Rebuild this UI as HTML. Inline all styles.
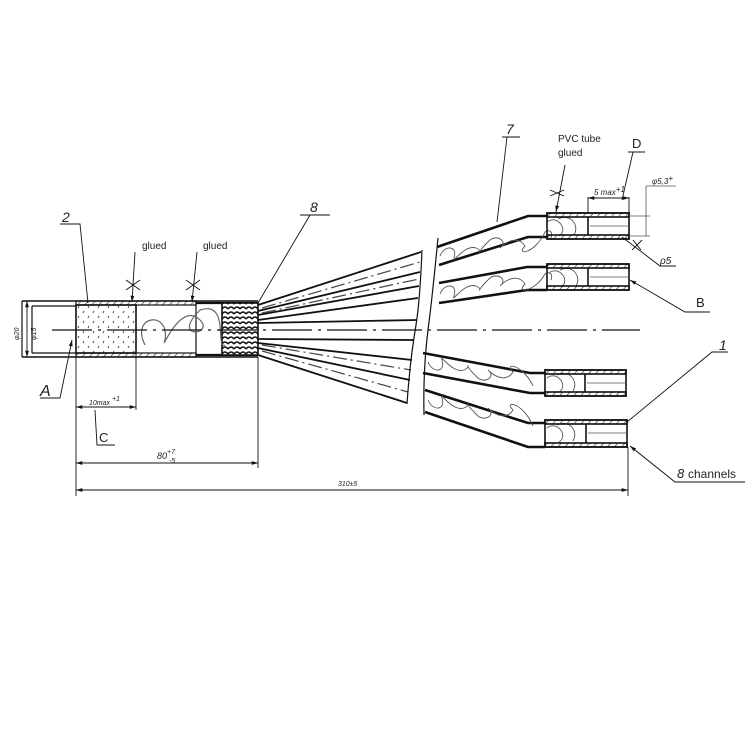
<!DOCTYPE html>
<html><head><meta charset="utf-8"><style>
html,body{margin:0;padding:0;background:#fff;}
svg{display:block;font-family:"Liberation Sans",sans-serif;}
.t{font-family:"Liberation Sans",sans-serif;font-style:italic;fill:#222;}
</style></head><body>
<svg width="750" height="750" viewBox="0 0 750 750" xmlns="http://www.w3.org/2000/svg">
<defs>
<pattern id="hat" width="5" height="5" patternUnits="userSpaceOnUse" patternTransform="rotate(45)">
<line x1="0" y1="0" x2="0" y2="5" stroke="#333" stroke-width="1.3"/></pattern>
<pattern id="mesh" width="6" height="5" patternUnits="userSpaceOnUse">
<rect width="6" height="5" fill="#fff"/><path d="M0 4 Q3 0 6 4" stroke="#111" fill="none" stroke-width="1.6"/></pattern>
<pattern id="foam" width="10" height="10" patternUnits="userSpaceOnUse">
<line x1="3" y1="3" x2="4" y2="1" stroke="#444" stroke-width="0.9"/><line x1="8" y1="8" x2="9" y2="6" stroke="#444" stroke-width="0.9"/></pattern>
<marker id="ar" viewBox="0 0 10 10" refX="10" refY="5" markerWidth="7" markerHeight="7" orient="auto-start-reverse"><path d="M0 2 L10 5 L0 8 z" fill="#111"/></marker>
</defs>
<g stroke="#111" fill="none" stroke-width="1.2">
<line x1="22" y1="301" x2="258" y2="301" stroke-width="1.6"/>
<line x1="22" y1="357" x2="258" y2="357" stroke-width="1.6"/>
<line x1="32" y1="306" x2="76" y2="306"/>
<line x1="32" y1="353" x2="76" y2="353"/>
<line x1="22" y1="301" x2="22" y2="357"/>
<line x1="32" y1="306" x2="32" y2="353"/>
<rect x="76" y="301" width="120" height="4" fill="url(#hat)"/>
<rect x="76" y="353" width="120" height="4" fill="url(#hat)"/>
<rect x="76" y="305" width="60" height="48" fill="url(#foam)" stroke-width="1.6"/>
<line x1="196" y1="301" x2="196" y2="357"/>
<line x1="196" y1="303" x2="258" y2="303" stroke-width="2.2"/>
<line x1="196" y1="355" x2="258" y2="355" stroke-width="2.2"/>
<rect x="222" y="303" width="36" height="52" fill="url(#mesh)" stroke-width="1.6"/>
<path d="M145 345 C130 315,170 310,165 340 C160 355,180 300,200 320 C215 335,170 340,200 310 C230 300,215 350,225 345" stroke="#666"/>
<line x1="52" y1="330" x2="640" y2="330" stroke-dasharray="40,6,3,6"/>
<g stroke-width="1.8">
<line x1="258" y1="305" x2="421" y2="252"/>
<line x1="258" y1="311" x2="420" y2="272"/>
<line x1="258" y1="315" x2="419" y2="286"/>
<line x1="258" y1="320" x2="418" y2="298"/>
<line x1="258" y1="323" x2="417" y2="320"/>
<line x1="258" y1="339" x2="414" y2="340"/>
<line x1="258" y1="343" x2="412" y2="360"/>
<line x1="258" y1="348" x2="410" y2="380"/>
<line x1="258" y1="355" x2="407" y2="403"/>
</g>
<g stroke-dasharray="14,4,2,4" stroke="#444">
<line x1="262" y1="308" x2="420" y2="262"/>
<line x1="262" y1="313" x2="419" y2="279"/>
<line x1="262" y1="345" x2="411" y2="370"/>
<line x1="262" y1="351" x2="408" y2="392"/>
</g>
<path d="M422 250 Q420 300 416 325 Q410 360 407 404" stroke-width="1.2"/>
<path d="M438 238 Q432 300 428 330 Q423 370 424 415" stroke-width="1.2"/>
<g stroke-width="2.6">
<path d="M437 247 L528 216 L547 216"/><path d="M439 265 L528 237 L547 237"/>
<path d="M439 283 L527 267 L547 267"/><path d="M439 303 L527 290 L547 290"/>
<path d="M423 353 L530 373 L545 373"/><path d="M423 373 L530 393 L545 393"/>
<path d="M425 390 L528 423 L545 423"/><path d="M425 412 L528 447 L545 447"/>
</g>
<g stroke="#555" stroke-width="0.9">
<path d="M440 256 c5-12 18-10 14 2 c-3 8 10-14 22-10 c10 4-5 10 14-8 c8-6 18 2 10 8 c10-10 20-10 25-2 c-10 10 10 8 20 -14 c5 -3 8 0 6 6"/>
<path d="M440 294 c5-12 18-10 14 2 c-3 8 10-14 22-10 c10 4-5 10 14-8 c8-6 18 2 10 8 c10-10 20-10 25-2 c-10 10 10 8 20 -10 c5 -3 8 0 6 6"/>
<path d="M428 362 c5 12 18 10 14 -2 c-3 -8 10 14 22 10 c10 -4 -5 -10 14 8 c8 6 18 -2 10 -8 c10 10 20 10 25 2 c-10 -10 10 -8 20 14"/>
<path d="M428 400 c5 12 18 10 14 -2 c-3 -8 10 14 22 10 c10 -4 -5 -10 14 8 c8 6 18 -2 10 -8 c10 10 20 10 25 2 c-10 -10 10 -8 20 16"/>
<path d="M547 222 c10 -8 22 8 12 14 M558 219 c12 -6 22 6 16 16 M549 273 c10 -8 22 8 12 14 M560 270 c12 -6 22 6 16 16 M547 378 c10 -8 22 8 12 14 M557 375 c12 -6 22 6 16 16 M547 428 c10 -8 22 8 12 14 M557 425 c12 -6 22 6 16 16"/>
</g>
<g stroke-width="1.6">
<rect x="547" y="213" width="82" height="26"/><rect x="547" y="213" width="82" height="4" fill="url(#hat)"/><rect x="547" y="235" width="82" height="4" fill="url(#hat)"/><line x1="588" y1="217" x2="588" y2="235"/>
<rect x="547" y="264" width="82" height="26"/><rect x="547" y="264" width="82" height="4" fill="url(#hat)"/><rect x="547" y="286" width="82" height="4" fill="url(#hat)"/><line x1="588" y1="268" x2="588" y2="286"/>
<rect x="545" y="370" width="81" height="26"/><rect x="545" y="370" width="81" height="4" fill="url(#hat)"/><rect x="545" y="392" width="81" height="4" fill="url(#hat)"/><line x1="585" y1="374" x2="585" y2="392"/>
<rect x="545" y="420" width="82" height="27"/><rect x="545" y="420" width="82" height="4" fill="url(#hat)"/><rect x="545" y="443" width="82" height="4" fill="url(#hat)"/><line x1="586" y1="424" x2="586" y2="443"/>
</g>
<g stroke="#555" stroke-width="0.8">
<line x1="590" y1="226" x2="629" y2="226"/><line x1="590" y1="277" x2="629" y2="277"/><line x1="587" y1="383" x2="626" y2="383"/><line x1="588" y1="433" x2="627" y2="433"/>
<line x1="629" y1="216" x2="650" y2="216"/><line x1="629" y1="236" x2="650" y2="236"/><line x1="646" y1="186" x2="646" y2="236"/><line x1="646" y1="186" x2="676" y2="186"/>
</g>
<g stroke-width="0.9">
<line x1="76" y1="357" x2="76" y2="496"/><line x1="258" y1="357" x2="258" y2="468"/><line x1="136" y1="353" x2="136" y2="410"/><line x1="628" y1="447" x2="628" y2="496"/>
<line x1="76" y1="407" x2="136" y2="407" marker-start="url(#ar)" marker-end="url(#ar)"/>
<line x1="76" y1="463" x2="258" y2="463" marker-start="url(#ar)" marker-end="url(#ar)"/>
<line x1="76" y1="490" x2="628" y2="490" marker-start="url(#ar)" marker-end="url(#ar)"/>
<line x1="588" y1="197" x2="588" y2="213"/><line x1="629" y1="197" x2="629" y2="213"/>
<line x1="588" y1="198" x2="629" y2="198" marker-start="url(#ar)" marker-end="url(#ar)"/>
<line x1="27" y1="301" x2="27" y2="357" marker-start="url(#ar)" marker-end="url(#ar)"/>
<path d="M60 224 L80 224 L88 303"/>
<path d="M135 252 L132 302" marker-end="url(#ar)"/><path d="M197 252 L192 302" marker-end="url(#ar)"/>
<path d="M126 280 L140 290 M126 290 L140 280 M186 280 L200 290 M186 290 L200 280"/>
<path d="M300 215 L330 215 M310 215 L258 303"/>
<path d="M40 398 L60 398 L72 340" marker-end="url(#ar)"/>
<path d="M115 445 L97 445 L95 410"/>
<path d="M502 137 L520 137 M507 137 L497 222"/>
<path d="M565 165 L556 212" marker-end="url(#ar)"/><path d="M550 190 L564 196 M550 196 L564 190"/>
<path d="M628 152 L645 152 M633 152 L622 200"/>
<path d="M622 237 L660 266 L676 266"/><path d="M633 240 L641 250 M632 250 L642 240"/>
<path d="M710 312 L685 312 L630 280" marker-end="url(#ar)"/>
<path d="M728 352 L712 352 L627 422"/>
<path d="M745 482 L675 482 L630 446" marker-end="url(#ar)"/>
</g>
</g>
<g class="t">
<text x="62" y="222" font-size="14">2</text>
<text x="310" y="212" font-size="14">8</text>
<text x="40" y="396" font-size="16">A</text>
<text x="506" y="134" font-size="14">7</text>
<text x="719" y="350" font-size="14">1</text>
<text x="89" y="405" font-size="7">10max <tspan dy="-4">+1</tspan></text>
<text x="157" y="459" font-size="9">80<tspan dy="-5" font-size="7">+7</tspan><tspan dx="-6" dy="9" font-size="7">-5</tspan></text>
<text x="338" y="486" font-size="7">310±5</text>
<text x="594" y="195" font-size="8">5 max<tspan dy="-3">+1</tspan></text>
<text x="652" y="184" font-size="8">φ5,3<tspan dy="-3">+</tspan></text>
<text x="660" y="264" font-size="10">ρ5</text>
<text x="677" y="478" font-size="13">8</text>
</g>
<g font-family="Liberation Sans,sans-serif" fill="#222">
<text x="142" y="249" font-size="10">glued</text>
<text x="203" y="249" font-size="10">glued</text>
<text x="558" y="142" font-size="10">PVC tube</text>
<text x="558" y="156" font-size="10">glued</text>
<text x="632" y="148" font-size="13">D</text>
<text x="696" y="307" font-size="13">B</text>
<text x="99" y="442" font-size="13">C</text>
<text x="688" y="478" font-size="12">channels</text>
<text transform="translate(19,340) rotate(-90)" font-size="7" font-style="italic">φ20</text>
<text transform="translate(36,340) rotate(-90)" font-size="7" font-style="italic">φ15</text>
</g>
</svg>
</body></html>
